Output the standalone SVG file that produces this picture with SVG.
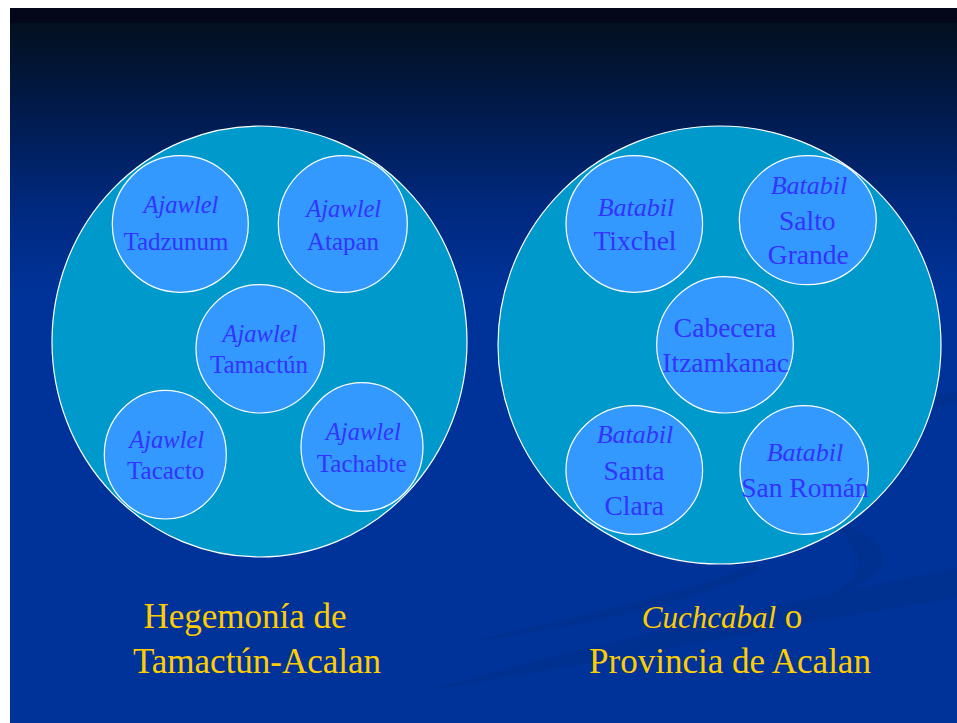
<svg xmlns="http://www.w3.org/2000/svg" width="957" height="723" viewBox="0 0 957 723">
<defs>
<linearGradient id="bg" x1="0" y1="8" x2="0" y2="723" gradientUnits="userSpaceOnUse">
<stop offset="0" stop-color="#04061a"/>
<stop offset="0.02" stop-color="#04061a"/>
<stop offset="0.021" stop-color="#03101f"/>
<stop offset="0.14" stop-color="#011a4a"/>
<stop offset="0.28" stop-color="#00297f"/>
<stop offset="0.4" stop-color="#003399"/>
<stop offset="1" stop-color="#003399"/>
</linearGradient>
<style>
.big{fill:#0099cc;stroke:#ffffff;stroke-width:1.2}
.sm{fill:#3399ff;stroke:#ffffff;stroke-width:1.2}
.lbl{font-family:"Liberation Serif","Times New Roman",serif;fill:#3333ff;text-anchor:middle}
.it{font-style:italic}
.cap{font-family:"Liberation Serif","Times New Roman",serif;fill:#ffcc00;font-size:35px;text-anchor:middle}
.sw{fill:#00308c;opacity:0.7}
</style>
</defs>
<rect x="0" y="0" width="957" height="723" fill="#ffffff"/>
<rect x="10" y="8" width="947" height="715" fill="url(#bg)"/>
<g id="swooshes">
<path class="sw" d="M430,690 C600,640 800,600 957,568 L957,598 C800,622 620,660 430,690 Z"/>
<path class="sw" d="M826,520 C868,530 888,548 882,565 C876,580 852,590 832,594 C852,582 862,570 858,557 C854,544 843,532 826,520 Z"/>
<path class="sw" d="M470,642 C580,615 700,590 755,563 L760,570 C700,600 590,625 470,642 Z"/>
<path class="sw" d="M900,404 C920,398 940,395 957,392 L957,404 C940,406 920,408 900,410 Z"/>
</g>
<g id="hegemonia">
<ellipse class="big" cx="259.5" cy="341.5" rx="207.5" ry="215.5"/>
</g>
<g id="provincia">
<ellipse class="big" cx="719.5" cy="345" rx="221.5" ry="219"/>
</g>
<g id="tadzunum">
<ellipse class="sm" cx="180.3" cy="224" rx="68" ry="68.3"/>
<text class="lbl it" x="181" y="213" font-size="24.5">Ajawlel</text>
<text class="lbl" x="176" y="250" font-size="25">Tadzunum</text>
</g>
<g id="atapan">
<ellipse class="sm" cx="342.8" cy="224" rx="64.5" ry="68.3"/>
<text class="lbl it" x="343.7" y="217" font-size="24.5">Ajawlel</text>
<text class="lbl" x="343" y="249.5" font-size="25">Atapan</text>
</g>
<g id="tamactun">
<ellipse class="sm" cx="260.2" cy="348.8" rx="64.2" ry="64.2"/>
<text class="lbl it" x="260" y="341.5" font-size="24.5">Ajawlel</text>
<text class="lbl" x="259" y="372.7" font-size="25">Tamactún</text>
</g>
<g id="tacacto">
<ellipse class="sm" cx="165.3" cy="454.7" rx="61" ry="64.3"/>
<text class="lbl it" x="166.7" y="448.3" font-size="24.5">Ajawlel</text>
<text class="lbl" x="165.7" y="479.3" font-size="25">Tacacto</text>
</g>
<g id="tachabte">
<ellipse class="sm" cx="362" cy="447" rx="61" ry="64.3"/>
<text class="lbl it" x="363.3" y="440" font-size="24.5">Ajawlel</text>
<text class="lbl" x="361.7" y="471.7" font-size="25">Tachabte</text>
</g>
<g id="tixchel">
<ellipse class="sm" cx="634.3" cy="224" rx="68.3" ry="68.3"/>
<text class="lbl it" x="636" y="215.7" font-size="26">Batabil</text>
<text class="lbl" x="635" y="250" font-size="27.5">Tixchel</text>
</g>
<g id="salto-grande">
<ellipse class="sm" cx="807.8" cy="220.2" rx="68.5" ry="64.5"/>
<text class="lbl it" x="809" y="194" font-size="26">Batabil</text>
<text class="lbl" x="807.3" y="230" font-size="27.5">Salto</text>
<text class="lbl" x="808.3" y="264.3" font-size="27.5">Grande</text>
</g>
<g id="cabecera">
<ellipse class="sm" cx="725" cy="344.8" rx="68.3" ry="68.2"/>
<text class="lbl" x="725" y="336.7" font-size="27.5">Cabecera</text>
<text class="lbl" x="725.7" y="371.7" font-size="27.5">Itzamkanac</text>
</g>
<g id="santa-clara">
<ellipse class="sm" cx="634.3" cy="470" rx="68.3" ry="64.3"/>
<text class="lbl it" x="635" y="443.3" font-size="26">Batabil</text>
<text class="lbl" x="634" y="480" font-size="27.5">Santa</text>
<text class="lbl" x="634.3" y="515" font-size="27.5">Clara</text>
</g>
<g id="san-roman">
<ellipse class="sm" cx="804.2" cy="470" rx="64.2" ry="64.3"/>
<text class="lbl it" x="805" y="461" font-size="26">Batabil</text>
<text class="lbl" x="805" y="496.7" font-size="27.5">San Román</text>
</g>
<g id="captions">
<text class="cap" x="245" y="628.3">Hegemonía de</text>
<text class="cap" x="257" y="672.7">Tamactún-Acalan</text>
<text class="cap" x="722" y="628.3"><tspan font-style="italic" font-size="31">Cuchcabal</tspan> o</text>
<text class="cap" x="730" y="672.7" font-size="34">Provincia de Acalan</text>
</g>
<g id="connectors"></g>
</svg>
